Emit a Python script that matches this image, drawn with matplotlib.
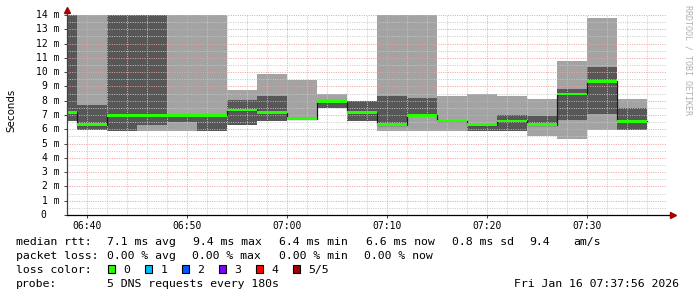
import matplotlib
matplotlib.use("Agg")
import matplotlib.pyplot as plt
import matplotlib.dates as mdates
from matplotlib.ticker import MultipleLocator
import numpy as np

W, H = 697, 297

# end of each 3 min step (5 DNS pings per step)
step_end = ["06:39", "06:42", "06:45", "06:48", "06:51", "06:54", "06:57",
            "07:00", "07:03", "07:06", "07:09", "07:12", "07:15", "07:18",
            "07:21", "07:24", "07:27", "07:30", "07:33", "07:36"]

# sorted ping times in ms, ping3 is the median
ping1 = [6.55, 5.92, 5.90, 5.90, 5.90, 5.90, 6.27, 6.55, 6.62, 7.49,
         6.55, 5.90, 5.90, 5.90, 5.90, 5.90, 5.55, 5.31, 5.92, 5.92]
ping2 = [6.55, 5.92, 5.90, 6.27, 6.53, 5.90, 6.27, 6.55, 6.62, 7.49,
         6.55, 6.30, 6.93, 6.50, 5.90, 5.90, 6.20, 6.67, 7.09, 5.92]
ping3 = [7.18, 6.33, 6.97, 6.97, 6.97, 6.97, 7.35, 7.17, 6.73, 7.94,
         7.17, 6.33, 6.97, 6.58, 6.33, 6.58, 6.33, 8.47, 9.37, 6.56]
ping4 = [14.8, 7.68, 14.9, 14.5, 7.02, 7.00, 8.08, 8.36, 6.78, 7.97,
         7.96, 8.31, 8.17, 6.62, 6.38, 6.98, 6.95, 8.85, 10.35, 7.49]
ping5 = [15.3, 16.4, 17.1, 15.8, 18.2, 15.1, 8.73, 9.90, 9.48, 8.50,
         7.96, 15.6, 14.7, 8.31, 8.50, 8.31, 8.12, 10.77, 13.76, 8.12]

loss_labels = ["0", "1", "2", "3", "4", "5/5"]
loss_colors = ["#26ff00", "#00b8ff", "#0059ff", "#7e00ff", "#ff0000", "#a10000"]

stats_median = ["7.1 ms avg", "9.4 ms max", "6.4 ms min", "6.6 ms now", "0.8 ms sd", "9.4", "am/s"]
stats_loss = ["0.00 % avg", "0.00 % max", "0.00 % min", "0.00 % now"]
probe_text = "5 DNS requests every 180s"
stamp = "Fri Jan 16 07:37:56 2026"

day = "2026-01-16T"
ends = np.array([day + t for t in step_end], dtype="datetime64[s]")
starts = ends - np.timedelta64(180, "s")
x = np.append(starts, ends[-1])


def ext(a):
    a = np.asarray(a, dtype=float)
    return np.append(a, a[-1])


p1, p2, p3, p4, p5 = map(ext, (ping1, ping2, ping3, ping4, ping5))

mono = "DejaVu Sans Mono"
fig = plt.figure(figsize=(W / 100, H / 100), dpi=100)
fig.patch.set_facecolor("white")
ax = fig.add_axes([66.7 / W, 82 / H, 600 / W, 200 / H])
ax.set_facecolor("white")

# smoke: outer pair light, inner pair dark
ax.fill_between(x, p1, p5, step="post", color="#a3a3a3", lw=0, zorder=1)
ax.fill_between(x, p2, p4, step="post", color="#575757", lw=0, zorder=1.1)
ax.step(x, p3, where="post", color="#1a1a1a", lw=0.9, zorder=2.6)
ax.fill_between(x, p3 - 0.1, p3 + 0.1, step="post", color=loss_colors[0], lw=0, zorder=3)

ax.set_xlim(np.datetime64(day + "06:38"), np.datetime64(day + "07:38"))
ax.set_ylim(0, 14)

ax.xaxis.set_major_locator(mdates.MinuteLocator(byminute=range(0, 60, 10)))
ax.xaxis.set_minor_locator(mdates.MinuteLocator(byminute=range(0, 60, 2)))
ax.xaxis.set_major_formatter(mdates.DateFormatter("%H:%M"))
ax.yaxis.set_major_locator(MultipleLocator(1))
ax.yaxis.set_minor_locator(MultipleLocator(0.5))

ax.set_axisbelow(False)
ax.grid(which="major", color="#eba0a0", ls=(0, (1, 1.4)), lw=0.7, zorder=2.5)
ax.grid(which="minor", color="#c8c8c8", ls=(0, (1, 1.4)), lw=0.7, zorder=2.5)

ax.tick_params(axis="x", which="major", length=2, width=0.7, color="#404040",
               pad=2.4, labelsize=7, labelfontfamily=mono)
ax.tick_params(axis="x", which="minor", length=0)
ax.tick_params(axis="y", which="major", length=2, width=0.7, color="#404040",
               labelleft=False)
ax.tick_params(axis="y", which="minor", length=0)

for s in ax.spines.values():
    s.set_visible(False)

# axes with arrow heads
ax.plot([0, 0], [0, 1.02], transform=ax.transAxes, color="#404040", lw=0.9,
        clip_on=False, zorder=4)
ax.plot([0, 1.008], [0, 0], transform=ax.transAxes, color="#000000", lw=0.9,
        clip_on=False, zorder=4)
ax.plot([0], [1.024], marker="^", ms=4.5, color="#a00000", transform=ax.transAxes,
        clip_on=False, zorder=5)
ax.plot([1.01], [0], marker=">", ms=4.5, color="#a00000", transform=ax.transAxes,
        clip_on=False, zorder=5)

# y labels, the zero one sits further left like in rrdtool
ytr = ax.get_yaxis_transform()
for v in range(0, 15):
    lab = f"{v} m" if v else "0"
    off = -6.7 / 600 if v else -20 / 600
    ax.text(off, v, lab, transform=ytr, ha="right", va="center",
            fontsize=7, family=mono, color="#000000")

fig.text(11 / W, 1 - 110 / H, "Seconds", rotation=90, ha="center", va="center",
         fontsize=7.4, family="DejaVu Sans")
fig.text(688 / W, 1 - 5 / H, "RRDTOOL / TOBI OETIKER", rotation=270,
         ha="center", va="top", fontsize=6, family=mono, color="#b0b0b0")


def ftxt(px, py, s, **kw):
    fig.text(px / W, 1 - py / H, s, fontsize=8.25, family=mono, va="baseline", **kw)


# legend rows
ftxt(16, 245, "median rtt:")
for px, s in zip([107.3, 193.3, 279.3, 366, 452, 529, 573], stats_median):
    ftxt(px, 245, s)

ftxt(16, 259, "packet loss:")
for px, s in zip([106.7, 192.5, 279, 364], stats_loss):
    ftxt(px, 259, s)

ftxt(16, 273, "loss color:")
for i, (lab, col) in enumerate(zip(loss_labels, loss_colors)):
    bx = 108.3 + i * 37
    fig.patches.append(plt.Rectangle((bx / W, 1 - 273.3 / H), 7 / W, 8 / H,
                                     transform=fig.transFigure, facecolor=col,
                                     edgecolor="black", lw=0.8))
    ftxt(bx + 15, 273, lab)

ftxt(16, 287, "probe:")
ftxt(107.3, 287, probe_text)
ftxt(679, 287, stamp, ha="right")

fig.savefig("out.png", dpi=100, facecolor="white")
